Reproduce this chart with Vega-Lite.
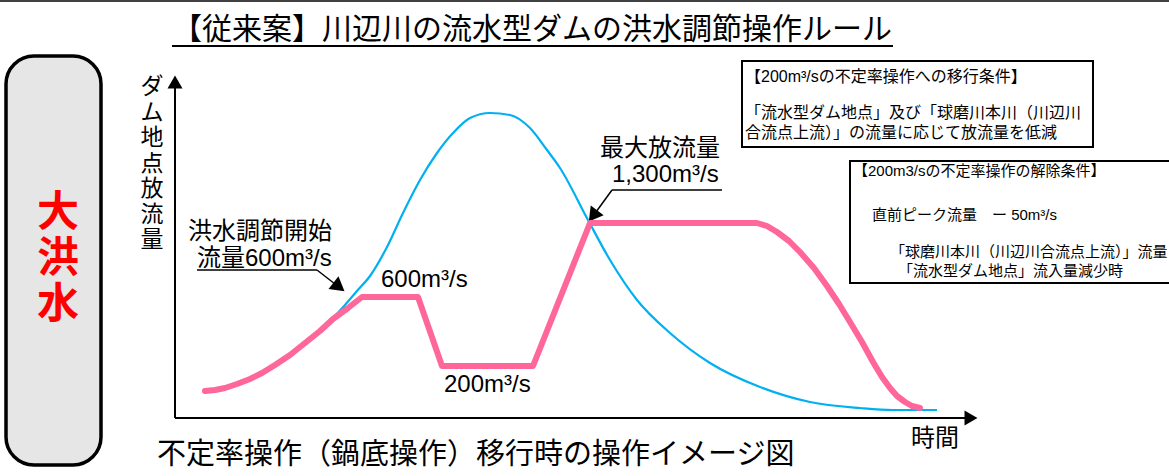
{
  "$schema": "https://vega.github.io/schema/vega-lite/v6.json",
  "width": 1169,
  "height": 476,
  "autosize": {"type": "none"},
  "padding": 0,
  "background": "white",
  "config": {"view": {"stroke": null}},
  "datasets": {
    "inflow": [
      {"x": 205, "y": 391}, {"x": 225, "y": 388}, {"x": 250, "y": 379}, {"x": 275, "y": 365},
      {"x": 305, "y": 343}, {"x": 333, "y": 318}, {"x": 345, "y": 305}, {"x": 357, "y": 291},
      {"x": 370, "y": 276}, {"x": 387, "y": 247}, {"x": 403, "y": 213}, {"x": 420, "y": 180},
      {"x": 437, "y": 153}, {"x": 453, "y": 133}, {"x": 470, "y": 118}, {"x": 490, "y": 113},
      {"x": 510, "y": 115}, {"x": 530, "y": 128}, {"x": 547, "y": 150}, {"x": 560, "y": 168},
      {"x": 588, "y": 220}, {"x": 610, "y": 260}, {"x": 637, "y": 300}, {"x": 670, "y": 333},
      {"x": 710, "y": 363}, {"x": 760, "y": 387}, {"x": 810, "y": 402}, {"x": 860, "y": 408},
      {"x": 893, "y": 410}, {"x": 937, "y": 410}
    ],
    "outflow": [
      {"x": 205, "y": 391}, {"x": 215, "y": 390}, {"x": 225, "y": 388}, {"x": 237, "y": 384},
      {"x": 250, "y": 379}, {"x": 262, "y": 373}, {"x": 275, "y": 365}, {"x": 290, "y": 355},
      {"x": 305, "y": 343}, {"x": 320, "y": 331}, {"x": 333, "y": 319}, {"x": 348, "y": 308},
      {"x": 362, "y": 297}, {"x": 418, "y": 297}, {"x": 442, "y": 366}, {"x": 533, "y": 366},
      {"x": 590, "y": 223}, {"x": 757, "y": 223}, {"x": 767, "y": 226}, {"x": 777, "y": 232},
      {"x": 789, "y": 241}, {"x": 800, "y": 252}, {"x": 814, "y": 268}, {"x": 827, "y": 286},
      {"x": 839, "y": 304}, {"x": 850, "y": 322}, {"x": 862, "y": 342}, {"x": 873, "y": 362},
      {"x": 882, "y": 377}, {"x": 890, "y": 388}, {"x": 897, "y": 396}, {"x": 905, "y": 402},
      {"x": 912, "y": 406}, {"x": 920, "y": 408}
    ],
    "axes": [
      {"x": 175, "y": 88, "x2": 175, "y2": 418},
      {"x": 175, "y": 418, "x2": 968, "y2": 418},
      {"x": 172, "y": 46, "x2": 893, "y2": 46}
    ],
    "leaders": [
      {"x": 197, "y": 270, "x2": 317, "y2": 270},
      {"x": 317, "y": 270, "x2": 335, "y2": 284},
      {"x": 722, "y": 190, "x2": 612, "y2": 190},
      {"x": 612, "y": 190, "x2": 596, "y2": 212}
    ],
    "topline": [{"x": 0, "y": 1, "x2": 1169, "y2": 1}],
    "leftbox": [{"x": 6, "x2": 101, "y": 56, "y2": 465}],
    "boxes": [
      {"x": 742, "x2": 1093, "y": 61, "y2": 147},
      {"x": 850, "x2": 1185, "y": 161, "y2": 283}
    ],
    "titles": [{"x": 532, "y": 30, "label": "【従来案】川辺川の流水型ダムの洪水調節操作ルール"}],
    "caption": [{"x": 157, "y": 455, "label": "不定率操作（鍋底操作）移行時の操作イメージ図"}],
    "bigflood": [
      {"x": 58, "y": 213, "label": "大"},
      {"x": 58, "y": 259, "label": "洪"},
      {"x": 58, "y": 305, "label": "水"}
    ],
    "ylabel": [{"x": 152, "y": 76, "label": "ダ|ム|地|点|放|流|量"}],
    "notes": [
      {"x": 188, "y": 232, "label": "洪水調節開始"},
      {"x": 197, "y": 259, "label": "流量600m³/s"},
      {"x": 381, "y": 280, "label": "600m³/s"},
      {"x": 444, "y": 385, "label": "200m³/s"},
      {"x": 600, "y": 149, "label": "最大放流量"},
      {"x": 612, "y": 175, "label": "1,300m³/s"},
      {"x": 911, "y": 439, "label": "時間"}
    ],
    "box1": [
      {"x": 745, "y": 77, "label": "【200m³/sの不定率操作への移行条件】"},
      {"x": 745, "y": 113, "label": "「流水型ダム地点」及び「球磨川本川（川辺川"},
      {"x": 745, "y": 133, "label": "合流点上流）」の流量に応じて放流量を低減"}
    ],
    "box2": [
      {"x": 853, "y": 171, "label": "【200m3/sの不定率操作の解除条件】"},
      {"x": 872, "y": 215, "label": "直前ピーク流量　ー 50m³/s"},
      {"x": 890, "y": 252, "label": "「球磨川本川（川辺川合流点上流）」流量"},
      {"x": 898, "y": 271, "label": "「流水型ダム地点」流入量減少時"}
    ],
    "arrowUp": [{"x": 175, "y": 82}],
    "arrowRight": [{"x": 971, "y": 418}],
    "arrowA": [{"x": 339, "y": 287}],
    "arrowB": [{"x": 593, "y": 216}]
  },
  "encoding": {
    "x": {"field": "x", "type": "quantitative", "scale": {"domain": [0, 1169], "nice": false, "zero": false}, "axis": null},
    "y": {"field": "y", "type": "quantitative", "scale": {"domain": [0, 476], "reverse": true, "nice": false, "zero": false}, "axis": null}
  },
  "layer": [
    {
      "data": {"name": "topline"},
      "mark": {"type": "rule", "color": "#404040", "strokeWidth": 2},
      "encoding": {"x2": {"field": "x2"}, "y2": {"field": "y2"}}
    },
    {
      "data": {"name": "leftbox"},
      "mark": {"type": "rect", "fill": "#e6e6e6", "stroke": "black", "strokeWidth": 3.5, "cornerRadius": 28},
      "encoding": {"x2": {"field": "x2"}, "y2": {"field": "y2"}}
    },
    {
      "data": {"name": "boxes"},
      "mark": {"type": "rect", "fill": "white", "stroke": "black", "strokeWidth": 2},
      "encoding": {"x2": {"field": "x2"}, "y2": {"field": "y2"}}
    },
    {
      "data": {"name": "axes"},
      "mark": {"type": "rule", "color": "black", "strokeWidth": 2},
      "encoding": {"x2": {"field": "x2"}, "y2": {"field": "y2"}}
    },
    {
      "data": {"name": "leaders"},
      "mark": {"type": "rule", "color": "black", "strokeWidth": 1.5},
      "encoding": {"x2": {"field": "x2"}, "y2": {"field": "y2"}}
    },
    {
      "data": {"name": "arrowUp"},
      "mark": {"type": "point", "shape": "triangle-up", "filled": true, "color": "black", "opacity": 1, "size": 225, "strokeWidth": 0}
    },
    {
      "data": {"name": "arrowRight"},
      "mark": {"type": "point", "shape": "triangle-right", "filled": true, "color": "black", "opacity": 1, "size": 225, "strokeWidth": 0}
    },
    {
      "data": {"name": "arrowA"},
      "mark": {"type": "point", "shape": "triangle-up", "angle": 128, "filled": true, "color": "black", "opacity": 1, "size": 260, "strokeWidth": 0}
    },
    {
      "data": {"name": "arrowB"},
      "mark": {"type": "point", "shape": "triangle-up", "angle": 217, "filled": true, "color": "black", "opacity": 1, "size": 260, "strokeWidth": 0}
    },
    {
      "data": {"name": "inflow"},
      "mark": {"type": "line", "color": "#00B0F0", "strokeWidth": 2.2, "interpolate": "monotone"}
    },
    {
      "data": {"name": "outflow"},
      "mark": {"type": "line", "color": "#FF6699", "strokeWidth": 6, "strokeJoin": "round", "strokeCap": "round"}
    },
    {
      "data": {"name": "titles"},
      "mark": {"type": "text", "font": "Noto Sans CJK JP", "fontSize": 30, "align": "center", "baseline": "middle", "color": "black"},
      "encoding": {"text": {"field": "label"}}
    },
    {
      "data": {"name": "caption"},
      "mark": {"type": "text", "font": "Noto Sans CJK JP", "fontSize": 29, "align": "left", "baseline": "middle", "color": "black"},
      "encoding": {"text": {"field": "label"}}
    },
    {
      "data": {"name": "bigflood"},
      "mark": {"type": "text", "font": "Noto Sans CJK JP", "fontSize": 42, "fontWeight": "bold", "align": "center", "baseline": "middle", "color": "#FF0000"},
      "encoding": {"text": {"field": "label"}}
    },
    {
      "data": {"name": "ylabel"},
      "mark": {"type": "text", "font": "Noto Sans CJK JP", "fontSize": 23, "align": "center", "baseline": "top", "lineBreak": "|", "lineHeight": 25.5, "color": "black"},
      "encoding": {"text": {"field": "label"}}
    },
    {
      "data": {"name": "notes"},
      "mark": {"type": "text", "font": "Liberation Sans, Noto Sans CJK JP", "fontSize": 24, "align": "left", "baseline": "middle", "color": "black"},
      "encoding": {"text": {"field": "label"}}
    },
    {
      "data": {"name": "box1"},
      "mark": {"type": "text", "font": "Liberation Sans, Noto Sans CJK JP", "fontSize": 16, "align": "left", "baseline": "middle", "color": "black"},
      "encoding": {"text": {"field": "label"}}
    },
    {
      "data": {"name": "box2"},
      "mark": {"type": "text", "font": "Liberation Sans, Noto Sans CJK JP", "fontSize": 15, "align": "left", "baseline": "middle", "color": "black"},
      "encoding": {"text": {"field": "label"}}
    }
  ]
}
